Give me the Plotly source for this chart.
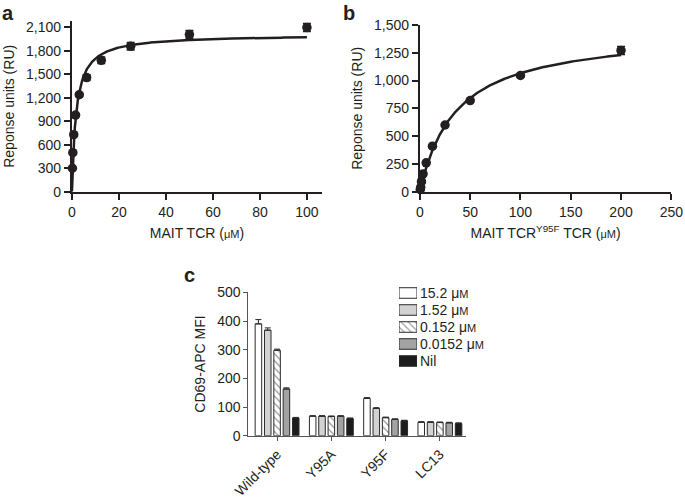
import numpy as np
import plotly.graph_objects as go

# ---------- Panel a data ----------
a_conc = [0.195, 0.39, 0.78, 1.56, 3.125, 6.25, 12.5, 25, 50, 100]
a_resp = [300, 500, 730, 980, 1240, 1460, 1680, 1860, 2010, 2100]
a_err = [10, 10, 15, 15, 20, 35, 40, 45, 50, 50]
a_bmax, a_kd = 2010, 1.8

# ---------- Panel b data ----------
b_conc = [0.39, 0.78, 1.56, 3.125, 6.25, 12.5, 25, 50, 100, 200]
b_resp = [20, 40, 90, 160, 260, 410, 600, 820, 1045, 1270]
b_err = [5, 5, 8, 8, 10, 10, 12, 12, 15, 35]
b_bmax, b_kd = 1450, 36

# ---------- Panel c data ----------
c_groups = ["Wild-type", "Y95A", "Y95F", "LC13"]
c_series = ["15.2 μ<span style='font-size:11px'>M</span>",
            "1.52 μ<span style='font-size:11px'>M</span>",
            "0.152 μ<span style='font-size:11px'>M</span>",
            "0.0152 μ<span style='font-size:11px'>M</span>",
            "Nil"]
c_values = [
    [390, 68, 130, 47],
    [368, 68, 95, 47],
    [298, 67, 63, 46],
    [163, 68, 57, 45],
    [62, 60, 52, 43],
]
c_errors = [
    [15, 2, 3, 2],
    [8, 2, 3, 2],
    [4, 2, 2, 2],
    [4, 2, 2, 2],
    [2, 2, 2, 2],
]
c_colors = ["white", "#d2d2d2", "white", "#a3a3a3", "#1c1c1c"]
c_pattern = ["", "", "\\", "", ""]

FONT = "Liberation Sans, Arial, sans-serif"
INK = "#231f20"
EDGE = "#2a2a2a"

fig = go.Figure()

# panel a fit + points
xa = np.linspace(0, 100, 400)
fig.add_trace(go.Scatter(x=xa, y=a_bmax * xa / (a_kd + xa), mode="lines",
                         line=dict(color=INK, width=2.5), xaxis="x", yaxis="y",
                         showlegend=False, hoverinfo="skip"))
fig.add_trace(go.Scatter(x=a_conc, y=a_resp, mode="markers",
                         marker=dict(color=INK, size=9.5),
                         error_y=dict(type="data", array=a_err, color=INK, thickness=1.8, width=4),
                         xaxis="x", yaxis="y", showlegend=False, cliponaxis=False))

# panel b fit + points
xb = np.linspace(0, 200, 400)
fig.add_trace(go.Scatter(x=xb, y=b_bmax * xb / (b_kd + xb), mode="lines",
                         line=dict(color=INK, width=2.5), xaxis="x2", yaxis="y2",
                         showlegend=False, hoverinfo="skip"))
fig.add_trace(go.Scatter(x=b_conc, y=b_resp, mode="markers",
                         marker=dict(color=INK, size=9.5),
                         error_y=dict(type="data", array=b_err, color=INK, thickness=1.8, width=4),
                         xaxis="x2", yaxis="y2", showlegend=False, cliponaxis=False))

# panel c bars
for name, vals, errs, col, pat in zip(c_series, c_values, c_errors, c_colors, c_pattern):
    marker = dict(color=col, line=dict(color=EDGE, width=1))
    if pat:
        marker["pattern"] = dict(shape=pat, fgcolor=EDGE, bgcolor="white",
                                 size=5, solidity=0.25, fillmode="overlay")
    fig.add_trace(go.Bar(x=c_groups, y=vals, name=name, marker=marker, showlegend=False,
                         error_y=dict(type="data", array=errs, arrayminus=[0] * len(errs),
                                      symmetric=False, color=EDGE, thickness=1, width=3),
                         xaxis="x3", yaxis="y3"))

# legend swatches for panel c (drawn as a small bar chart on its own axes)
fig.add_trace(go.Bar(x=[1] * len(c_series), y=c_series, orientation="h", width=0.62,
                     marker=dict(color=c_colors, line=dict(color=EDGE, width=1),
                                 pattern=dict(shape=c_pattern, fgcolor=EDGE, bgcolor="white",
                                              size=5, solidity=0.25, fillmode="overlay")),
                     xaxis="x4", yaxis="y4", showlegend=False, hoverinfo="skip"))

axis_common = dict(showline=True, linecolor=INK, linewidth=2, ticks="outside",
                   ticklen=6, tickwidth=2, tickcolor=INK, showgrid=False, zeroline=False,
                   automargin=False,
                   tickfont=dict(family=FONT, size=14, color=INK),
                   title_font=dict(family=FONT, size=14, color=INK))

small = "<span style='font-size:11px'>μM</span>"

fig.update_layout(
    width=685, height=498,
    margin=dict(l=0, r=0, t=0, b=0, autoexpand=False),
    plot_bgcolor="white", paper_bgcolor="white",
    font=dict(family=FONT, size=14, color=INK),
    barmode="group", bargap=0.14, bargroupgap=0.3,
    showlegend=False,
    xaxis=dict(domain=[0.105, 0.470], range=[0, 106.4], tickvals=[0, 20, 40, 60, 80, 100],
               title=dict(text="MAIT TCR (" + small + ")", standoff=10), anchor="y", **axis_common),
    yaxis=dict(domain=[0.615, 0.958], range=[0, 2184], tickvals=list(range(0, 2101, 300)),
               tickformat=",", title=dict(text="Reponse units (RU)", standoff=8), anchor="x",
               **axis_common),
    xaxis2=dict(domain=[0.613, 0.980], range=[0, 250], tickvals=[0, 50, 100, 150, 200, 250],
                title=dict(text="MAIT TCR<sup>Y95F</sup> TCR (" + small + ")", standoff=10),
                anchor="y2", **axis_common),
    yaxis2=dict(domain=[0.615, 0.950], range=[0, 1500], tickvals=list(range(0, 1501, 250)),
                tickformat=",", title=dict(text="Reponse units (RU)", standoff=8), anchor="x2",
                **axis_common),
    xaxis3=dict(domain=[0.3625, 0.681], range=[-0.53, 3.49], anchor="y3", tickangle=-45,
                showline=True, linecolor="#555", linewidth=1, ticks="outside", ticklen=4,
                tickcolor="#555", showgrid=False, zeroline=False, automargin=False,
                tickfont=dict(family=FONT, size=14, color=INK)),
    yaxis3=dict(domain=[0.125, 0.413], range=[0, 500], tickvals=[0, 100, 200, 300, 400, 500],
                anchor="x3", showline=True, linecolor="#555", linewidth=1, ticks="outside",
                ticklen=4, tickcolor="#555", showgrid=False, zeroline=False, automargin=False,
                tickfont=dict(family=FONT, size=14, color=INK),
                title=dict(text="CD69-APC MFI", font=dict(family=FONT, size=14, color=INK), standoff=8)),
    xaxis4=dict(domain=[399 / 685, 417 / 685], range=[0, 1], anchor="y4", visible=False,
                automargin=False, fixedrange=True),
    yaxis4=dict(domain=[(498 - 369.5) / 498, (498 - 284.5) / 498], anchor="x4",
                range=[len(c_series) - 0.5, -0.5], side="right", showline=False, ticks="",
                showgrid=False, zeroline=False, automargin=False, ticklabelstandoff=2,
                tickfont=dict(family=FONT, size=14, color=INK), fixedrange=True),
    annotations=[
        dict(text="<b>a</b>", x=0.0, y=1.0, xref="paper", yref="paper", xanchor="left",
             yanchor="top", showarrow=False, font=dict(family=FONT, size=20, color=INK)),
        dict(text="<b>b</b>", x=341 / 685, y=1.0, xref="paper", yref="paper", xanchor="left",
             yanchor="top", showarrow=False, font=dict(family=FONT, size=20, color=INK)),
        dict(text="<b>c</b>", x=182 / 685, y=1 - 262 / 498, xref="paper", yref="paper",
             xanchor="left", yanchor="top", showarrow=False,
             font=dict(family=FONT, size=20, color=INK)),
    ],
)

fig.write_html("out.html", config={"displayModeBar": False},
               post_script="document.body.style.margin='0';document.body.style.overflow='hidden';")
